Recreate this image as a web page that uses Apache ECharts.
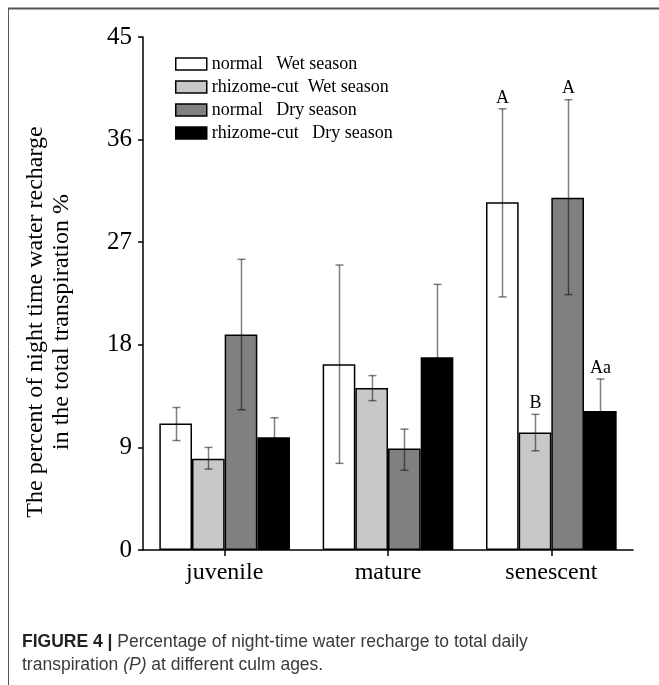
<!DOCTYPE html>
<html>
<head>
<meta charset="utf-8">
<script src="https://cdn.jsdelivr.net/npm/echarts/dist/echarts.min.js"></script>
<style>
  html, body { margin: 0; padding: 0; background: #fff; }
  #chart { width: 659px; height: 685px; }
</style>
</head>
<body>
<div id="chart"></div>
<script>
// ---- data ----
const categories = ['juvenile', 'mature', 'senescent'];
const seriesNames = ['normal   Wet season', 'rhizome-cut  Wet season', 'normal   Dry season', 'rhizome-cut   Dry season'];
const normalWet = [11.1, 16.3, 30.5];
const normalWetErrUp = [1.4, 8.7, 8.2];
const normalWetErrDown = [1.5, 8.7, 8.3];
const rhizomeWet = [8.0, 14.2, 10.3];
const rhizomeWetErrUp = [1.0, 1.1, 1.6];
const rhizomeWetErrDown = [0.9, 1.1, 1.6];
const normalDry = [18.9, 8.9, 30.9];
const normalDryErrUp = [6.6, 1.7, 8.6];
const normalDryErrDown = [6.6, 1.9, 8.5];
const rhizomeDry = [9.9, 16.9, 12.2];
const rhizomeDryErrUp = [1.7, 6.4, 2.8];
const rhizomeDryErrDown = [1.7, 6.4, 2.8];
const letters = [['', '', 'A'], ['', '', 'B'], ['', '', 'A'], ['', '', 'Aa']];
const yTicks = [0, 9, 18, 27, 36, 45];

// ---- build ----
const values = [normalWet, rhizomeWet, normalDry, rhizomeDry];
const errUp = [normalWetErrUp, rhizomeWetErrUp, normalDryErrUp, rhizomeDryErrUp];
const errDown = [normalWetErrDown, rhizomeWetErrDown, normalDryErrDown, rhizomeDryErrDown];
const fills = ['#ffffff', '#c8c8c8', '#808080', '#000000'];
const serif = 'Liberation Serif';

const errData = [];
for (let s = 0; s < 4; s++) {
  for (let c = 0; c < categories.length; c++) {
    errData.push([c, s, values[s][c], errUp[s][c], errDown[s][c]]);
  }
}

const barSeries = values.map((arr, s) => ({
  name: seriesNames[s],
  type: 'bar',
  data: arr,
  barGap: '0%',
  barCategoryGap: '20%',
  itemStyle: { color: fills[s], borderColor: '#000', borderWidth: 1.5 },
  emphasis: { disabled: true },
  z: 2
}));

const errSeries = {
  type: 'custom',
  data: errData,
  z: 5,
  silent: true,
  encode: { x: 0, y: 2 },
  renderItem: function (params, api) {
    const ci = api.value(0), si = api.value(1);
    const v = api.value(2), up = api.value(3), dn = api.value(4);
    const catW = api.size([1, 0])[0];
    const bw = catW * 0.8 / 4;
    const off = -catW * 0.4 + bw * (si + 0.5);
    const pTop = api.coord([ci, v + up]);
    const pBot = api.coord([ci, v - dn]);
    const x = Math.round(pTop[0] + off) + 0.5;
    const capW = 4;
    const st = { stroke: 'rgba(0,0,0,0.5)', lineWidth: 1.5 };
    const children = [
      { type: 'line', shape: { x1: x, y1: pTop[1], x2: x, y2: pBot[1] }, style: st },
      { type: 'line', shape: { x1: x - capW, y1: pTop[1], x2: x + capW, y2: pTop[1] }, style: st },
      { type: 'line', shape: { x1: x - capW, y1: pBot[1], x2: x + capW, y2: pBot[1] }, style: st }
    ];
    const lt = letters[si][ci];
    if (lt) {
      children.push({
        type: 'text',
        style: {
          text: lt, x: x, y: pTop[1] - 2,
          textAlign: 'center', textVerticalAlign: 'bottom',
          font: '18px "' + serif + '"', fill: '#000'
        }
      });
    }
    return { type: 'group', children: children };
  }
};

const chart = echarts.init(document.getElementById('chart'), null, { renderer: 'canvas' });
chart.setOption({
  animation: false,
  backgroundColor: '#ffffff',
  grid: { left: 143, right: 26, top: 37, bottom: 135, containLabel: false, outerBoundsMode: 'none' },
  legend: {
    orient: 'vertical',
    left: 170,
    top: 50,
    icon: 'rect',
    itemWidth: 31,
    itemHeight: 12,
    itemGap: 5,
    data: seriesNames,
    textStyle: { fontFamily: serif, fontSize: 18, color: '#000' },
    itemStyle: { borderColor: '#000', borderWidth: 1.5 },
    selectedMode: false
  },
  xAxis: {
    type: 'category',
    data: categories,
    axisLine: { show: true, lineStyle: { color: '#000', width: 1.5 } },
    axisTick: { show: true, alignWithLabel: true, length: 6, lineStyle: { color: '#000', width: 1.5 } },
    axisLabel: { fontFamily: serif, fontSize: 24, color: '#000', margin: 11 },
    splitLine: { show: false }
  },
  yAxis: {
    type: 'value',
    min: yTicks[0],
    max: yTicks[yTicks.length - 1],
    interval: yTicks[1] - yTicks[0],
    axisLine: { show: true, lineStyle: { color: '#000', width: 1.5 } },
    axisTick: { show: true, length: 5, lineStyle: { color: '#000', width: 1.5 } },
    axisLabel: { fontFamily: serif, fontSize: 25, color: '#000', margin: 11 },
    splitLine: { show: false }
  },
  graphic: [
    { type: 'line', shape: { x1: 8, y1: 8.5, x2: 659, y2: 8.5 }, style: { stroke: '#555', lineWidth: 2 } },
    { type: 'line', shape: { x1: 8.5, y1: 8, x2: 8.5, y2: 685 }, style: { stroke: '#555', lineWidth: 1 } },
    {
      type: 'text', x: 49, y: 322, rotation: Math.PI / 2,
      style: {
        text: 'The percent of night time water recharge\nin the total transpiration %',
        textAlign: 'center', textVerticalAlign: 'middle',
        font: '24px "' + serif + '"', lineHeight: 26, fill: '#000'
      }
    },
    {
      type: 'text', x: 22, y: 631,
      style: {
        text: '{b|FIGURE 4 |} Percentage of night-time water recharge to total daily\ntranspiration {i|(P)} at different culm ages.',
        font: '17.5px "Liberation Sans"', fill: '#3a3a3a', lineHeight: 23,
        rich: {
          b: { fontWeight: 'bold', fontFamily: 'Liberation Sans', fontSize: 17.5, fill: '#222', lineHeight: 23 },
          i: { fontStyle: 'italic', fontFamily: 'Liberation Sans', fontSize: 17.5, fill: '#3a3a3a', lineHeight: 23 }
        }
      }
    }
  ],
  series: barSeries.concat([errSeries])
});
</script>
</body>
</html>
